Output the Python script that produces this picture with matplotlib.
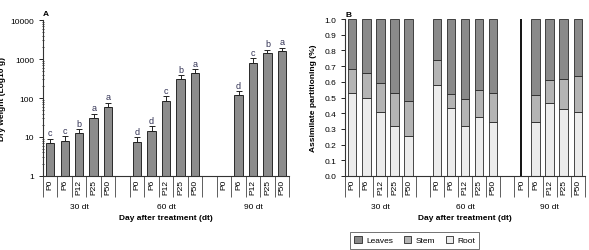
import numpy as np
import matplotlib
matplotlib.use("Agg")
import matplotlib.pyplot as plt
from matplotlib.ticker import FixedLocator, NullFormatter

plt.rcParams['font.family'] = ['Liberation Sans Narrow', 'Liberation Sans', 'DejaVu Sans']
plt.rcParams['font.size'] = 6

# data
doses = ["P0", "P6", "P12", "P25", "P50"]
days = ["30 dt", "60 dt", "90 dt"]

# panel A: dry weight (g), upper error end, letters
dry_weight = [[7, 8, 12.5, 30, 58],
              [7.5, 14, 85, 300, 430],
              [np.nan, 120, 800, 1450, 1650]]
dry_err_top = [[9, 10.5, 16, 40, 75],
               [10, 19, 110, 380, 550],
               [np.nan, 150, 1050, 1750, 1950]]
letters = [["c", "c", "b", "a", "a"],
           ["d", "d", "c", "b", "a"],
           ["", "d", "c", "b", "a"]]

# panel B: fractions
root = [[0.53, 0.50, 0.41, 0.32, 0.255],
        [0.58, 0.435, 0.32, 0.375, 0.345],
        [np.nan, 0.345, 0.465, 0.425, 0.41]]
stem = [[0.15, 0.155, 0.18, 0.21, 0.22],
        [0.16, 0.085, 0.17, 0.17, 0.185],
        [np.nan, 0.17, 0.145, 0.195, 0.225]]

c_leaves = "#8a8a8a"
c_stem = "#b4b4b4"
c_root = "#ececec"
edge = "#2a2a2a"

# category positions: 5 doses per group, one blank slot between groups
n = len(doses)
pos = []
for g in range(len(days)):
    pos.append([g * (n + 1) + i for i in range(n)])
pos = np.array(pos)
nslots = len(days) * (n + 1) - 1

fig = plt.figure(figsize=(5.89, 2.51), dpi=100)
axA = fig.add_axes([0.073, 0.295, 0.418, 0.621])
axB = fig.add_axes([0.586, 0.295, 0.407, 0.625])


def category_axis(ax):
    ax.set_xlim(-0.5, nslots - 0.5)
    ax.set_xticks(pos.flatten())
    ax.set_xticklabels(doses * len(days), rotation=90)
    ax.xaxis.set_minor_locator(FixedLocator(np.arange(-0.5, nslots, 1.0)))
    ax.tick_params(axis="x", which="major", length=0, pad=2)
    ax.tick_params(axis="x", which="minor", length=15, width=0.6, color="#444444")
    for g, d in enumerate(days):
        ax.annotate(d, xy=(pos[g].mean(), 0), xycoords=("data", "axes fraction"),
                    xytext=(0, -22), textcoords="offset points",
                    ha="center", va="center", fontsize=6)
    ax.annotate("Day after treatment (dt)", xy=(0.5, 0), xycoords="axes fraction",
                xytext=(0, -30), textcoords="offset points",
                ha="center", va="center", fontsize=6, fontweight="bold")
    for s in ["top", "right"]:
        ax.spines[s].set_visible(False)
    for s in ["left", "bottom"]:
        ax.spines[s].set_linewidth(0.8)
        ax.spines[s].set_color("#333333")


# panel A
for g in range(len(days)):
    vals = np.array(dry_weight[g], dtype=float)
    top = np.array(dry_err_top[g], dtype=float)
    axA.bar(pos[g], vals, width=0.58, color="#8c8c8c", edgecolor=edge, linewidth=0.7)
    axA.errorbar(pos[g], vals, yerr=[np.zeros(n), top - vals], fmt="none",
                 ecolor="#222222", elinewidth=0.7, capsize=2.2, capthick=0.7)
    for i in range(n):
        if letters[g][i]:
            axA.annotate(letters[g][i], xy=(pos[g][i], top[i]), xytext=(0, 1),
                         textcoords="offset points", ha="center", va="bottom",
                         fontsize=6.5, color="#333355")
axA.set_yscale("log")
axA.set_ylim(1, 10000)
axA.set_yticks([1, 10, 100, 1000, 10000])
axA.set_yticklabels(["1", "10", "100", "1000", "10000"])
axA.yaxis.set_minor_formatter(NullFormatter())
axA.tick_params(axis="y", which="major", length=3, width=0.6)
axA.tick_params(axis="y", which="minor", length=1.5, width=0.5, direction="inout")
axA.set_ylabel("Dry weight (Log10 g)", fontweight="bold", labelpad=3)
category_axis(axA)
axA.text(0.0, 1.02, "A", transform=axA.transAxes, fontsize=6, fontweight="bold",
         ha="left", va="bottom")

# panel B
for g in range(len(days)):
    r = np.array(root[g], dtype=float)
    s = np.array(stem[g], dtype=float)
    lv = 1 - r - s
    axB.bar(pos[g], r, width=0.6, color=c_root, edgecolor=edge, linewidth=0.6,
            label="Root" if g == 0 else None)
    axB.bar(pos[g], s, bottom=r, width=0.6, color=c_stem, edgecolor=edge, linewidth=0.6,
            label="Stem" if g == 0 else None)
    axB.bar(pos[g], lv, bottom=r + s, width=0.6, color=c_leaves, edgecolor=edge,
            linewidth=0.6, label="Leaves" if g == 0 else None)
    missing = pos[g][np.isnan(r)]
    if len(missing):
        axB.vlines(missing, 0, 1, color="black", linewidth=1.3)
axB.set_ylim(0, 1.0)
axB.set_yticks(np.arange(0, 1.01, 0.1))
axB.set_yticklabels(["%.1f" % v for v in np.arange(0, 1.01, 0.1)])
axB.tick_params(axis="y", which="major", length=3, width=0.6)
axB.set_ylabel("Assimilate partitioning (%)", fontweight="bold", labelpad=5)
category_axis(axB)
axB.text(0.0, 1.01, "B", transform=axB.transAxes, fontsize=6, fontweight="bold",
         ha="left", va="bottom")

h, l = axB.get_legend_handles_labels()
order = [2, 1, 0]
leg = axB.legend([h[i] for i in order], [l[i] for i in order], loc="center",
                 bbox_to_anchor=(0.29, -0.41), ncol=3, frameon=True, fancybox=False,
                 edgecolor="#333333", fontsize=6, handlelength=0.9, handleheight=0.9,
                 handletextpad=0.5, columnspacing=1.3, borderpad=0.5)
leg.get_frame().set_linewidth(0.6)

fig.savefig("out.png", dpi=100)
